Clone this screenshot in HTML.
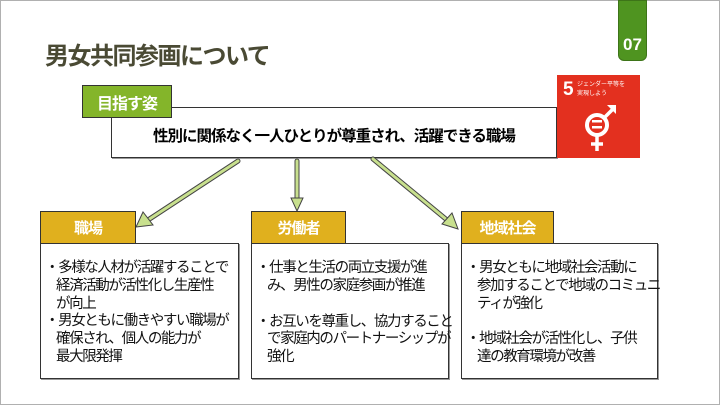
<!DOCTYPE html>
<html><head><meta charset="utf-8"><style>
body{margin:0;width:720px;height:405px;overflow:hidden;background:#fff;font-family:"Liberation Sans","Noto Sans CJK JP",sans-serif;}
.slide{position:absolute;left:0;top:0;width:718px;height:403px;border:1px solid #b0b0b0;}
.abs{position:absolute;box-sizing:border-box;}
.lab{color:#fff;font-weight:bold;font-size:15px;display:flex;align-items:center;justify-content:center;border:1px solid #333;letter-spacing:-1px;}
.gold{background:#e0b01e;}
.box{border:1px solid #333;background:#fff;box-shadow:1px 1px 0 #999;font-size:14.5px;line-height:17.8px;color:#111;padding:16px 0 0 4px;letter-spacing:-1.4px;white-space:nowrap;}
.box p{margin:0;}
.box .i{padding-left:11px;}
</style></head><body>
<div class="slide"></div>
<div class="abs" style="left:618px;top:0;width:29px;height:61px;background:#4f9420;border-radius:0 0 6px 6px;border:1px solid #3d7418;color:#fff;font-weight:bold;font-size:17px;text-align:center;padding-top:35px;line-height:18px;">07</div>
<div class="abs" style="left:45px;top:36px;font-size:24px;font-weight:bold;color:#4a4a34;letter-spacing:-1.5px;">男女共同参画について</div>
<div class="abs" style="left:111px;top:107px;width:446px;height:51px;border:1.5px solid #333;background:#fff;box-shadow:1px 1px 0 #999;font-weight:bold;font-size:15.5px;display:flex;align-items:center;justify-content:center;padding-top:4px;letter-spacing:-1px;">性別に関係なく一人ひとりが尊重され、活躍できる職場</div>
<div class="abs lab" style="left:82px;top:85px;width:90px;height:33px;background:#84b52a;font-size:16px;">目指す姿</div>
<div class="abs" style="left:557px;top:75px;width:83px;height:83px;background:#e3301f;color:#fff;">
<div style="position:absolute;left:6px;top:4px;font-size:19px;font-weight:bold;">5</div>
<div style="position:absolute;left:20px;top:6px;font-size:6px;line-height:9px;">ジェンダー平等を<br>実現しよう</div>
<svg width="83" height="83" style="position:absolute;left:0;top:0">
<circle cx="40" cy="50" r="10" fill="none" stroke="#fff" stroke-width="4"/>
<line x1="47" y1="43" x2="57" y2="33" stroke="#fff" stroke-width="3.5"/>
<polygon points="50,30 59,30 59,39" fill="#fff"/>
<line x1="40" y1="60" x2="40" y2="76" stroke="#fff" stroke-width="3.5"/>
<line x1="34" y1="69" x2="46" y2="69" stroke="#fff" stroke-width="3.5"/>
<rect x="35" y="45" width="10" height="2.5" fill="#fff"/><rect x="35" y="51" width="10" height="2.5" fill="#fff"/>
</svg></div>
<svg class="abs" width="720" height="405" style="left:0;top:0">
<g stroke-linecap="round">
<line x1="238" y1="161" x2="148" y2="220" stroke="#444" stroke-width="5"/>
<line x1="238" y1="161" x2="148" y2="220" stroke="#c8e08e" stroke-width="3"/>
<line x1="297" y1="161" x2="297" y2="200" stroke="#444" stroke-width="5"/>
<line x1="297" y1="161" x2="297" y2="200" stroke="#c8e08e" stroke-width="3"/>
<line x1="373" y1="159" x2="447" y2="220" stroke="#444" stroke-width="5"/>
<line x1="373" y1="159" x2="447" y2="220" stroke="#c8e08e" stroke-width="3"/>
</g>
<polygon points="136,227 143,212 153,225" fill="#c8e08e" stroke="#444" stroke-width="1"/>
<polygon points="297,211 291,198 303,198" fill="#c8e08e" stroke="#444" stroke-width="1"/>
<polygon points="458,229 442,224 452,213" fill="#c8e08e" stroke="#444" stroke-width="1"/>
</svg>
<div class="abs lab gold" style="left:40px;top:211px;width:96px;height:33px;">職場</div>
<div class="abs lab gold" style="left:251px;top:211px;width:95px;height:33px;">労働者</div>
<div class="abs lab gold" style="left:461px;top:211px;width:93px;height:33px;">地域社会</div>
<div class="abs box" style="left:40px;top:243px;width:199px;height:136px;"><p>・多様な人材が活躍することで</p><p class="i">経済活動が活性化し生産性</p><p class="i">が向上</p><p>・男女ともに働きやすい職場が</p><p class="i">確保され、個人の能力が</p><p class="i">最大限発揮</p></div>
<div class="abs box" style="left:251px;top:243px;width:198px;height:136px;"><p>・仕事と生活の両立支援が進</p><p class="i">み、男性の家庭参画が推進</p><p style="margin-top:18px">・お互いを尊重し、協力すること</p><p class="i">で家庭内のパートナーシップが</p><p class="i">強化</p></div>
<div class="abs box" style="left:461px;top:243px;width:197px;height:136px;"><p>・男女ともに地域社会活動に</p><p class="i">参加することで地域のコミュニ</p><p class="i">ティが強化</p><p style="margin-top:18px">・地域社会が活性化し、子供</p><p class="i">達の教育環境が改善</p></div>
</body></html>
